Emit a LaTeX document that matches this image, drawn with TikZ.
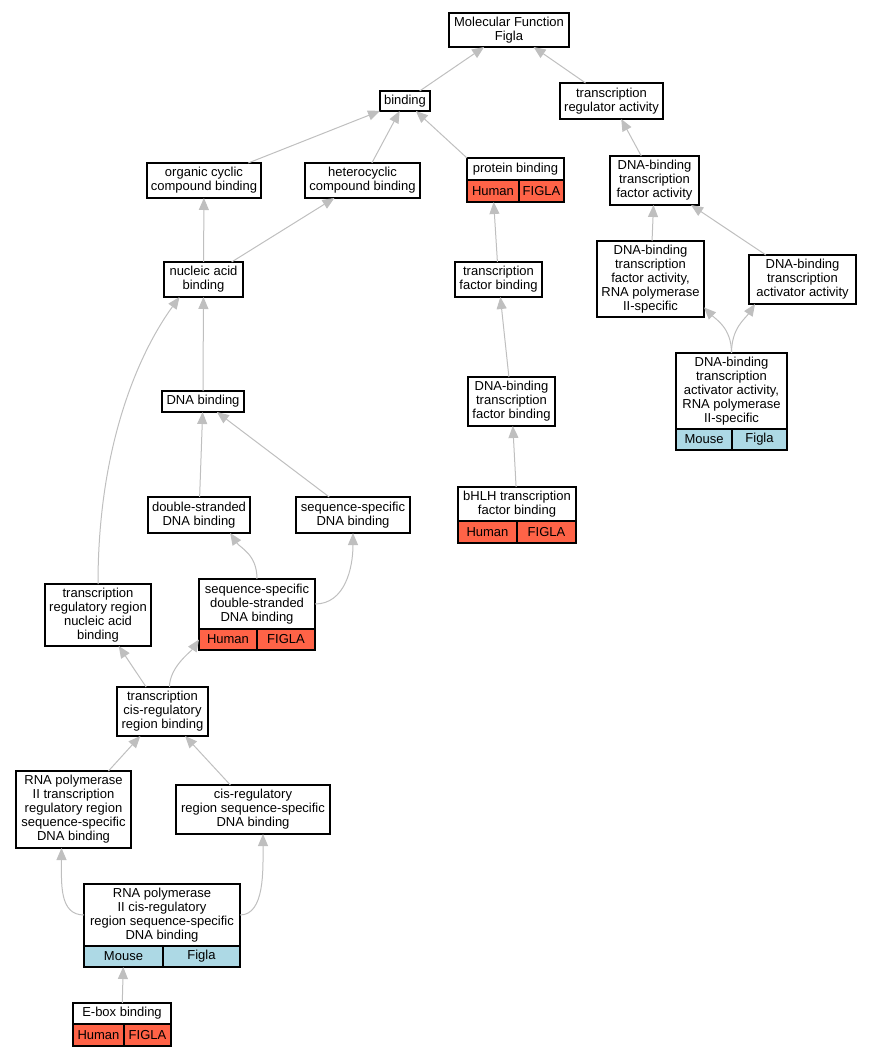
\documentclass[tikz,border=0pt]{standalone}
\usepackage{fontspec}
\setmainfont{Liberation Sans}
\usetikzlibrary{arrows.meta,calc}
\definecolor{HumanRed}{rgb}{1,0.39,0.28}
\definecolor{MouseBlue}{rgb}{0.68,0.85,0.9}
\definecolor{EdgeGray}{rgb}{0.75,0.75,0.75}

\begin{document}
\begin{tikzpicture}[x=1pt,y=-1pt,
    term/.style={draw, line width=1.1pt, fill=white, align=center, inner sep=0pt, outer sep=0pt,
      font=\fontsize{13}{14}\selectfont},
    sz/.style 2 args={minimum width=#1pt, minimum height=#2pt},
    human/.style={term, fill=HumanRed, anchor=north west},
    mouse/.style={term, fill=MouseBlue, anchor=north west},
    isa/.style={draw=EdgeGray, line width=1pt, -{Triangle[length=12pt,width=10pt]}}
  ]
    \useasboundingbox (0,0) rectangle (872,1059);
    %%Top
    \node[term, sz={120}{34}] (mf) at (509,30) {Molecular Function\\Figla};
    \node[term, sz={50}{20}] (bind) at (405,101) {binding};
    \node[term, sz={103}{36}] (tra) at (611.5,101) {transcription\\regulator activity};
    %%Binding branch
    \node[term, sz={114}{35}] (occb) at (204,180.5) {organic cyclic\\compound binding};
    \node[term, sz={115}{35}] (hccb) at (362.5,180.5) {heterocyclic\\compound binding};
    \node[term, sz={97}{22}] (prot) at (515.5,169) {protein binding};
    \node[human, sz={52}{22}] (prot-l) at (prot.south west) {Human};
    \node[human, sz={45}{22}] (prot-r) at (prot-l.north east) {FIGLA};
    \node[term, sz={79}{35}] (nab) at (203.5,279.5) {nucleic acid\\binding};
    \node[term, sz={87}{35}] (tfb) at (498.5,279.5) {transcription\\factor binding};
    \node[term, sz={82}{21}] (dnab) at (203,401.5) {DNA binding};
    \node[term, sz={87}{49}] (dbtfb) at (511.5,401.5) {DNA-binding\\transcription\\factor binding};
    \node[term, sz={102}{36}] (dsb) at (199,515) {double-stranded\\DNA binding};
    \node[term, sz={114}{36}] (ssb) at (353,515) {sequence-specific\\DNA binding};
    \node[term, sz={118}{34}] (bhlh) at (517,504) {bHLH transcription\\factor binding};
    \node[human, sz={59}{22}] (bhlh-l) at (bhlh.south west) {Human};
    \node[human, sz={59}{22}] (bhlh-r) at (bhlh-l.north east) {FIGLA};
    \node[term, sz={106}{62}] (trrna) at (98,615) {transcription\\regulatory region\\nucleic acid\\binding};
    \node[term, sz={116}{50}] (ssds) at (257,604) {sequence-specific\\double-stranded\\DNA binding};
    \node[human, sz={58}{21}] (ssds-l) at (ssds.south west) {Human};
    \node[human, sz={58}{21}] (ssds-r) at (ssds-l.north east) {FIGLA};
    \node[term, sz={91}{49}] (tcrr) at (162.5,711.5) {transcription\\cis-regulatory\\region binding};
    \node[term, sz={115}{77}] (rnatrr) at (73.5,809.5) {RNA polymerase\\II transcription\\regulatory region\\sequence-specific\\DNA binding};
    \node[term, sz={154}{49}] (crss) at (253,809.5) {cis-regulatory\\region sequence-specific\\DNA binding};
    \node[term, sz={156}{62}] (rnacr) at (162,915) {RNA polymerase\\II cis-regulatory\\region sequence-specific\\DNA binding};
    \node[mouse, sz={79}{21}] (rnacr-l) at (rnacr.south west) {Mouse};
    \node[mouse, sz={77}{21}] (rnacr-r) at (rnacr-l.north east) {Figla};
    \node[term, sz={98}{21}] (ebox) at (122,1013.5) {E-box binding};
    \node[human, sz={51}{22}] (ebox-l) at (ebox.south west) {Human};
    \node[human, sz={47}{22}] (ebox-r) at (ebox-l.north east) {FIGLA};
    %%Regulator branch
    \node[term, sz={89}{49}] (dbtfa) at (654.5,180.5) {DNA-binding\\transcription\\factor activity};
    \node[term, sz={107}{76}] (dbtfr) at (650.5,279) {DNA-binding\\transcription\\factor activity,\\RNA polymerase\\II-specific};
    \node[term, sz={107}{49}] (dbtaa) at (802.5,279.5) {DNA-binding\\transcription\\activator activity};
    \node[term, sz={111}{76}] (dbtar) at (731.5,391) {DNA-binding\\transcription\\activator activity,\\RNA polymerase\\II-specific};
    \node[mouse, sz={56}{21}] (dbtar-l) at (dbtar.south west) {Mouse};
    \node[mouse, sz={55}{21}] (dbtar-r) at (dbtar-l.north east) {Figla};
    %%Edges
    \draw[isa] (bind) -- (mf);
    \draw[isa] (tra) -- (mf);
    \draw[isa] (occb) -- (bind);
    \draw[isa] (hccb) -- (bind);
    \draw[isa] (prot.north west) -- (bind);
    \draw[isa] (dbtfa) -- (tra);
    \draw[isa] (nab) -- (occb);
    \draw[isa] (nab) -- (hccb);
    \draw[isa] (tfb) -- (prot-l);
    \draw[isa] (dbtfr) -- (dbtfa);
    \draw[isa] (dbtaa) -- (dbtfa);
    \draw[isa] (dbtar.north) .. controls +(0,-25) and +(12,12) .. (dbtfr.-28);
    \draw[isa] (dbtar.north) .. controls +(0,-25) and +(-10,15) .. ([xshift=6pt]dbtaa.south west);
    \draw[isa] (dnab) -- (nab);
    \draw[isa] (dbtfb) -- (tfb);
    \draw[isa] (dsb) -- (dnab);
    \draw[isa] (ssb) -- (dnab);
    \draw[isa] (bhlh) -- (dbtfb);
    \draw[isa] (trrna.north) .. controls +(0,-140) and +(-40,55) .. ([xshift=-24pt]nab.south);
    \draw[isa] (ssds.north) .. controls +(0,-25) and +(10,15) .. (dsb.-30);
    \draw[isa] (ssds.east) .. controls +(30,0) and +(0,35) .. (ssb.south);
    \draw[isa] (tcrr) -- (trrna);
    \draw[isa] ([xshift=7pt]tcrr.north) .. controls +(0,-20) and +(-8,12) .. (ssds-l.west);
    \draw[isa] (rnatrr) -- (tcrr);
    \draw[isa] (crss) -- (tcrr);
    \draw[isa] (rnacr.west) .. controls +(-25,0) and +(0,35) .. ([xshift=-12pt]rnatrr.south);
    \draw[isa] (rnacr.east) .. controls +(25,0) and +(0,35) .. ([xshift=10pt]crss.south);
    \draw[isa] (ebox) -- (rnacr-l);
\end{tikzpicture}
\end{document}
